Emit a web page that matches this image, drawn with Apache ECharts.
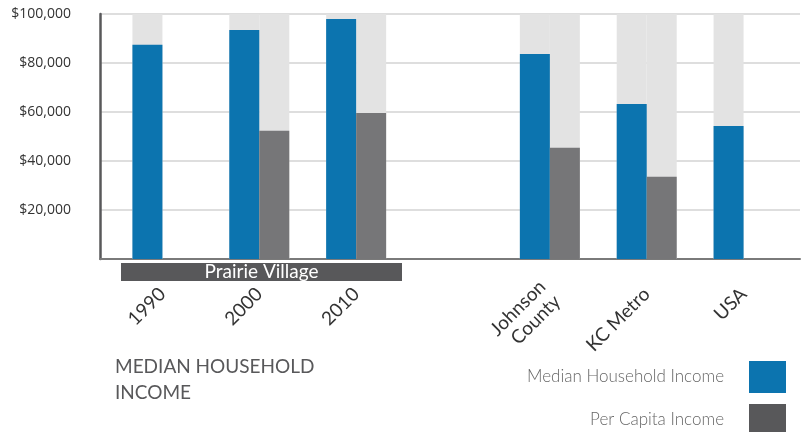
<!DOCTYPE html>
<html>
<head>
<meta charset="utf-8">
<title>Median Household Income</title>
<script src="https://cdn.jsdelivr.net/npm/echarts@6/dist/echarts.min.js"></script>
<style>
  html, body { margin: 0; padding: 0; background: #fff; }
  #chart { width: 801px; height: 432px; }
</style>
</head>
<body>
<div id="chart"></div>
<script>
// data
var categories = ['1990', '2000', '2010', '', 'Johnson\nCounty', 'KC Metro', 'USA']
var medianIncome = [87400, 93500, 98000, null, 83700, 63300, 54300]
var perCapitaIncome = [null, 52300, 59600, null, 45400, 33600, null]
var yMin = 0
var yMax = 100000
var yStep = 20000

var BLUE = '#0c74af'
var GREY = '#767678'
var DARK = '#58585a'

// light grey columns behind every bar that has a value
function backdrop(values) {
  return values.map(function (v) { return v == null ? null : yMax })
}

var chart = echarts.init(document.getElementById('chart'))

chart.setOption({
  animation: false,
  title: {
    text: 'MEDIAN HOUSEHOLD\nINCOME',
    left: 110,
    top: 349,
    textStyle: {
      fontFamily: 'Lato',
      fontWeight: 'normal',
      fontSize: 19,
      lineHeight: 26,
      color: DARK
    }
  },
  legend: {
    data: [
      { name: 'Median Household Income', itemStyle: { color: BLUE } },
      { name: 'Per Capita Income', itemStyle: { color: DARK } }
    ],
    orient: 'vertical',
    align: 'right',
    right: 15,
    top: 361,
    height: 90,
    padding: 0,
    icon: 'rect',
    itemWidth: 37,
    itemHeight: 32,
    itemGap: 11,
    textStyle: {
      fontFamily: 'Lato',
      fontWeight: 300,
      fontSize: 17,
      color: '#666',
      padding: [0, 20, 0, 0]
    }
  },
  // grid 0 carries the visible axes, grid 1 carries the bars
  grid: [
    { left: 100, right: 1, top: 14, bottom: 173 },
    { left: 114, width: 678, top: 14, bottom: 173 }
  ],
  xAxis: [
    {
      gridIndex: 0,
      type: 'value',
      min: 0,
      max: 1,
      axisLine: { show: true, lineStyle: { color: '#7a7a7a', width: 2 } },
      axisTick: { show: false },
      axisLabel: { show: false },
      splitLine: { show: false }
    },
    {
      gridIndex: 1,
      type: 'category',
      data: categories,
      axisLine: { show: false },
      axisTick: { show: false },
      axisLabel: {
        interval: 0,
        rotate: 45,
        margin: 32,
        fontFamily: 'Lato',
        fontSize: 19,
        lineHeight: 21,
        color: '#333'
      }
    },
    {
      gridIndex: 1,
      type: 'category',
      data: categories,
      show: false
    }
  ],
  yAxis: [
    {
      gridIndex: 0,
      type: 'value',
      min: yMin,
      max: yMax,
      interval: yStep,
      axisLine: { show: true, lineStyle: { color: DARK, width: 2.5 } },
      axisTick: { show: false },
      axisLabel: {
        margin: 29,
        fontFamily: 'Open Sans',
        fontSize: 14,
        color: '#333',
        formatter: function (v) {
          return v === 0 ? '' : '$' + v.toLocaleString('en-US')
        }
      },
      splitLine: { lineStyle: { color: '#dedede', width: 2 } }
    },
    {
      gridIndex: 1,
      type: 'value',
      min: yMin,
      max: yMax,
      show: false
    }
  ],
  series: [
    {
      name: 'bg-median',
      type: 'bar',
      xAxisIndex: 1,
      yAxisIndex: 1,
      barWidth: 30,
      barGap: 0,
      silent: true,
      itemStyle: { color: '#e3e3e3' },
      data: backdrop(medianIncome)
    },
    {
      name: 'bg-percapita',
      type: 'bar',
      xAxisIndex: 1,
      yAxisIndex: 1,
      barWidth: 30,
      barGap: 0,
      silent: true,
      itemStyle: { color: '#e3e3e3' },
      data: backdrop(perCapitaIncome)
    },
    {
      name: 'Median Household Income',
      type: 'bar',
      xAxisIndex: 2,
      yAxisIndex: 1,
      barWidth: 30,
      barGap: 0,
      itemStyle: { color: BLUE },
      data: medianIncome
    },
    {
      name: 'Per Capita Income',
      type: 'bar',
      xAxisIndex: 2,
      yAxisIndex: 1,
      barWidth: 30,
      barGap: 0,
      itemStyle: { color: GREY },
      data: perCapitaIncome
    }
  ],
  graphic: [
    {
      type: 'rect',
      left: 121,
      top: 263,
      shape: { width: 281, height: 18 },
      style: { fill: DARK },
      textContent: {
        style: {
          text: 'Prairie Village',
          fill: '#fff',
          fontFamily: 'Lato',
          fontSize: 19
        }
      },
      textConfig: { position: 'inside' }
    }
  ]
})
</script>
</body>
</html>
